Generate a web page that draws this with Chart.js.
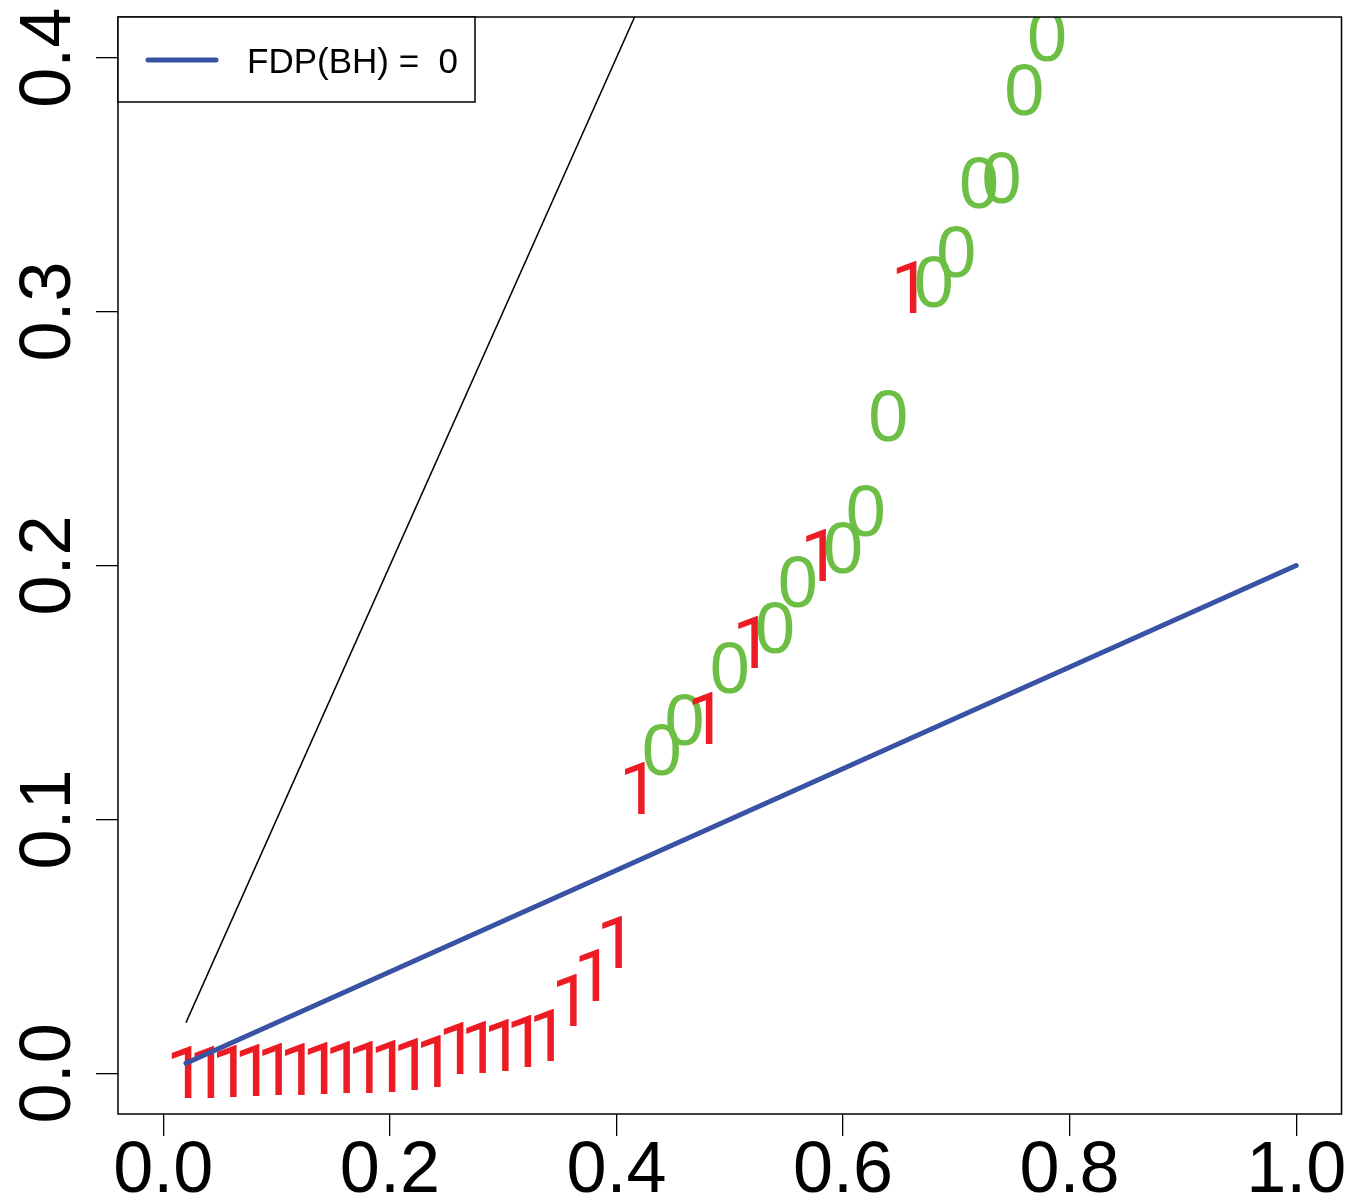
<!DOCTYPE html>
<html>
<head>
<meta charset="utf-8">
<script src="https://cdn.jsdelivr.net/npm/chart.js@4"></script>
<style>
  body { margin: 0; background: #fff; }
  canvas { display: block; }
</style>
</head>
<body>
<canvas id="grafica" width="1348" height="1196"></canvas>
<script>
// posiciones i/m y p-valores ordenados (solo los visibles, y <= 0.416)
const ranks = [0.02, 0.04, 0.06, 0.08, 0.10, 0.12, 0.14, 0.16, 0.18, 0.20,
  0.22, 0.24, 0.26, 0.28, 0.30, 0.32, 0.34, 0.36, 0.38, 0.40,
  0.42, 0.44, 0.46, 0.48, 0.50, 0.52, 0.54, 0.56, 0.58, 0.60,
  0.62, 0.64, 0.66, 0.68, 0.70, 0.72, 0.74, 0.76, 0.78];
const pValues = [0.0004, 0.0005, 0.0009, 0.0013, 0.0016, 0.0018, 0.0022, 0.0023, 0.0025, 0.0027,
  0.0035, 0.0050, 0.0100, 0.0105, 0.0110, 0.0127, 0.0152, 0.0287, 0.0386, 0.0516,
  0.1122, 0.1276, 0.1395, 0.1398, 0.1600, 0.1699, 0.1758, 0.1940, 0.2040, 0.2073,
  0.2217, 0.2593, 0.3098, 0.3122, 0.3240, 0.3510, 0.3530, 0.3878, 0.4088];
const status = [1, 1, 1, 1, 1, 1, 1, 1, 1, 1,
  1, 1, 1, 1, 1, 1, 1, 1, 1, 1,
  1, 0, 0, 1, 0, 1, 0, 0, 1, 0,
  0, 0, 1, 0, 0, 0, 0, 0, 0];

const diagX = [0.02, 1.0];
const diagY = [0.02, 1.0];
const bhX = [0.02, 1.0];
const bhY = [0.004, 0.2];

const xTicks = [0, 0.2, 0.4, 0.6, 0.8, 1.0];
const xTickLabels = ['0.0', '0.2', '0.4', '0.6', '0.8', '1.0'];
const yTicks = [0, 0.1, 0.2, 0.3, 0.4];
const yTickLabels = ['0.0', '0.1', '0.2', '0.3', '0.4'];

const legendText = 'FDP(BH) =  0';

const FONT = '"Liberation Sans", Arial, Helvetica, sans-serif';
const FONT_ONE = 'Roboto, "Noto Sans", sans-serif'; // "1" sin pie, como Helvetica
const RED = '#ED1C24';
const GREEN = '#6CBE45';
const BLUE = '#3953A4';

function toPoints(xs, ys) {
  return xs.map((x, i) => ({ x: x, y: ys[i] }));
}

// dibuja los 0 / 1 en la posicion de cada punto
const textPoints = {
  id: 'textPoints',
  beforeDatasetsDraw(chart) {
    const ctx = chart.ctx;
    const area = chart.chartArea;
    const meta = chart.getDatasetMeta(0);
    ctx.save();
    ctx.beginPath();
    ctx.rect(area.left, area.top, area.right - area.left, area.bottom - area.top);
    ctx.clip();
    ctx.textAlign = 'center';
    ctx.textBaseline = 'alphabetic';
    meta.data.forEach((pt, i) => {
      if (status[i] === 1) {
        ctx.font = '72px ' + FONT_ONE;
        ctx.fillStyle = RED;
      } else {
        ctx.font = '72px ' + FONT;
        ctx.fillStyle = GREEN;
      }
      ctx.fillText(String(status[i]), pt.x, pt.y + 0.36 * 72);
    });
    ctx.restore();
  }
};

// caja, etiquetas de ejes y leyenda estilo R
const rFrame = {
  id: 'rFrame',
  afterDraw(chart) {
    const ctx = chart.ctx;
    const area = chart.chartArea;
    const sx = chart.scales.x;
    const sy = chart.scales.y;

    ctx.save();
    ctx.strokeStyle = '#000';
    ctx.lineWidth = 1.5;
    ctx.strokeRect(area.left, area.top, area.right - area.left, area.bottom - area.top);

    ctx.fillStyle = '#000';
    ctx.font = '72px ' + FONT;
    ctx.textAlign = 'center';
    ctx.textBaseline = 'alphabetic';
    xTicks.forEach((v, i) => {
      ctx.fillText(xTickLabels[i], sx.getPixelForValue(v), 1192);
    });
    yTicks.forEach((v, i) => {
      ctx.save();
      ctx.translate(70, sy.getPixelForValue(v));
      ctx.rotate(-Math.PI / 2);
      ctx.fillText(yTickLabels[i], 0, 0);
      ctx.restore();
    });

    // leyenda
    const lx = area.left, ly = area.top;
    ctx.fillStyle = '#fff';
    ctx.fillRect(lx, ly, 357, 85);
    ctx.strokeStyle = '#000';
    ctx.lineWidth = 1.5;
    ctx.strokeRect(lx, ly, 357, 85);
    ctx.strokeStyle = BLUE;
    ctx.lineWidth = 5;
    ctx.lineCap = 'round';
    ctx.beginPath();
    ctx.moveTo(lx + 30, ly + 43);
    ctx.lineTo(lx + 98, ly + 43);
    ctx.stroke();
    ctx.fillStyle = '#000';
    ctx.font = '35px ' + FONT;
    ctx.textAlign = 'left';
    ctx.fillText(legendText, lx + 129, ly + 56);
    ctx.restore();
  }
};

new Chart(document.getElementById('grafica'), {
  type: 'scatter',
  data: {
    datasets: [
      {
        label: 'p',
        data: toPoints(ranks, pValues),
        pointRadius: 0,
        pointHoverRadius: 0,
        showLine: false
      },
      {
        label: 'diag',
        data: toPoints(diagX, diagY),
        showLine: true,
        borderColor: '#000',
        borderWidth: 1.5,
        pointRadius: 0,
        fill: false
      },
      {
        label: 'BH',
        data: toPoints(bhX, bhY),
        showLine: true,
        borderColor: BLUE,
        borderWidth: 5,
        borderCapStyle: 'round',
        pointRadius: 0,
        fill: false
      }
    ]
  },
  options: {
    responsive: false,
    animation: false,
    events: [],
    layout: { padding: { top: 17, right: 6.5, left: 0, bottom: 0 } },
    plugins: {
      legend: { display: false },
      tooltip: { enabled: false }
    },
    scales: {
      x: {
        type: 'linear',
        min: -0.04,
        max: 1.04,
        afterBuildTicks: s => { s.ticks = xTicks.map(v => ({ value: v })); },
        afterFit: s => { s.height = 82; },
        ticks: { display: false },
        border: { display: false },
        grid: { drawOnChartArea: false, drawTicks: true, tickLength: 22, color: '#000', lineWidth: 1.3 }
      },
      y: {
        type: 'linear',
        min: -0.016,
        max: 0.416,
        afterBuildTicks: s => { s.ticks = yTicks.map(v => ({ value: v })); },
        afterFit: s => { s.width = 118; },
        ticks: { display: false },
        border: { display: false },
        grid: { drawOnChartArea: false, drawTicks: true, tickLength: 22, color: '#000', lineWidth: 1.3 }
      }
    }
  },
  plugins: [textPoints, rFrame]
});
</script>
</body>
</html>
